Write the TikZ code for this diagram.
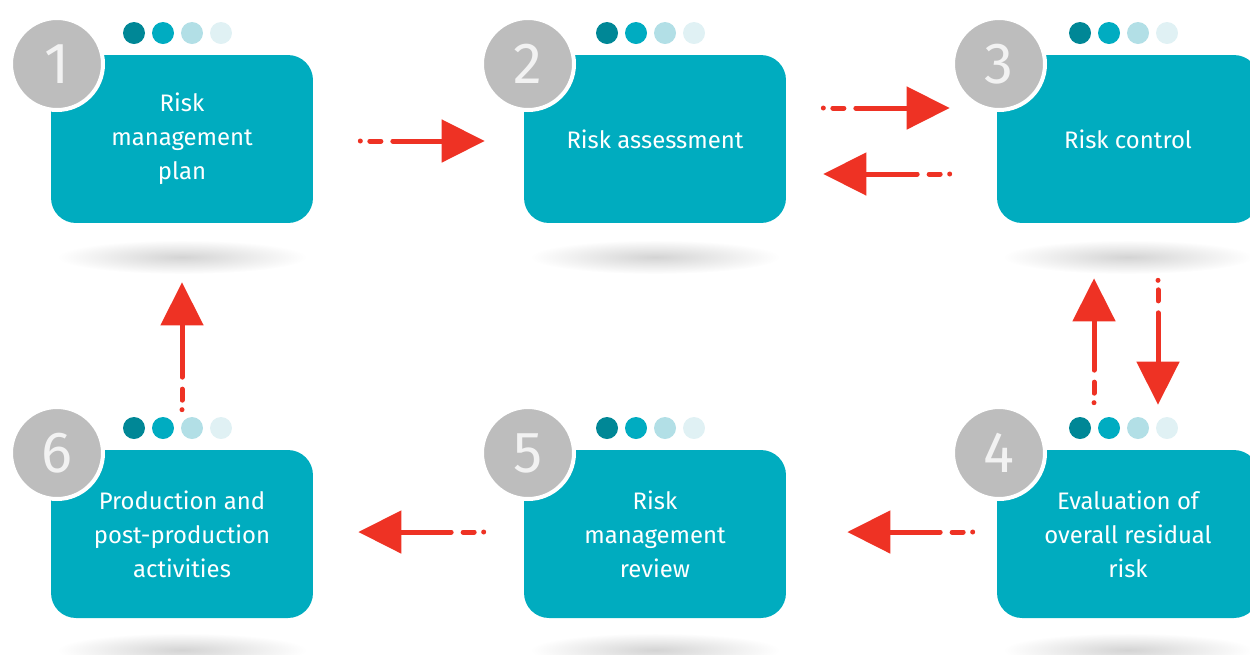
\documentclass[tikz,border=0pt]{standalone}
\usepackage{fontspec}
\setmainfont{Fira Sans}
\usetikzlibrary{arrows.meta}
\definecolor{boxc}{HTML}{00ACBF}
\definecolor{numc}{HTML}{BDBDBD}
\definecolor{dotA}{HTML}{008796}
\definecolor{dotB}{HTML}{00ACC1}
\definecolor{dotC}{HTML}{B2DFE6}
\definecolor{dotD}{HTML}{E0F1F4}
\definecolor{arrc}{HTML}{EE3224}
\tikzset{
  stepbox/.style={fill=boxc, rounded corners=0.5cm, minimum width=5.24cm, minimum height=3.36cm,
    text=white, align=center, inner sep=0pt, font=\fontsize{13.6}{19.3}\selectfont},
  numcirc/.style={circle, fill=numc, draw=white, line width=0.08cm, minimum size=1.84cm, inner sep=0pt,
    text=white!95!black, font=\fontsize{33}{33}\selectfont},
  dotn/.style={circle, minimum size=0.44cm, inner sep=0pt},
  arr/.style={draw=arrc, line width=0.1cm, line cap=round,
    dash pattern=on 0pt off 5.4pt on 6.3pt off 6.8pt on 800pt,
    -{Triangle[length=0.86cm,width=0.84cm,fill=arrc]}},
  shad/.style={inner color=black!17, outer color=white}
}
\begin{document}
\begin{tikzpicture}[x=0.02cm,y=-0.02cm]
\useasboundingbox (0,0) rectangle (1250,654);
\clip (0,0) rectangle (1250,654);
% shadows
\foreach \cx in {182,655,1128}{
  \shade[shad] (\cx,257) ellipse (125 and 17);
  \shade[shad] (\cx,650) ellipse (125 and 17);
}
% boxes
\node[stepbox] (b1) at (182,139) {Risk\\management\\plan};
\node[stepbox] (b2) at (655,139) {Risk assessment};
\node[stepbox] (b3) at (1128,139) {Risk control};
\node[stepbox] (b4) at (1128,534) {Evaluation of\\overall residual\\risk};
\node[stepbox] (b5) at (655,534) {\raisebox{3pt}{}Risk\\management\\review};
\node[stepbox] (b6) at (182,534) {Production and\\post-production\\activities};
% number circles
\node[numcirc] (n1) at (57,64) {1};
\node[numcirc] (n2) at (528,64) {2};
\node[numcirc] (n3) at (999,64) {3};
\node[numcirc] (n4) at (999,453) {4};
\node[numcirc] (n5) at (528,453) {5};
\node[numcirc] (n6) at (57,453) {6};
% dots
\foreach \nm/\dx/\dy in {1/134/33, 2/607/33, 3/1080/33, 4/1080/428, 5/607/428, 6/134/428}{
  \node[dotn, fill=dotA] (d\nm a) at (\dx,\dy) {};
  \node[dotn, fill=dotB] (d\nm b) at (\dx+29,\dy) {};
  \node[dotn, fill=dotC] (d\nm c) at (\dx+58,\dy) {};
  \node[dotn, fill=dotD] (d\nm d) at (\dx+87,\dy) {};
}
% arrows
\draw[arr] ([shift={(0.94cm,-0.04cm)}]b1.east) -- ([shift={(-0.78cm,-0.04cm)}]b2.west);
\draw[arr] ([shift={(0.74cm,0.62cm)}]b2.east) -- ([shift={(-0.94cm,0.62cm)}]b3.west);
\draw[arr] ([shift={(-0.94cm,-0.7cm)}]b3.west) -- ([shift={(0.74cm,-0.7cm)}]b2.east);
\draw[arr] ([shift={(-0.68cm,0.94cm)}]b4.north) -- ([shift={(-0.68cm,-1.1cm)}]b3.south);
\draw[arr] ([shift={(0.6cm,-1.14cm)}]b3.south) -- ([shift={(0.6cm,0.9cm)}]b4.north);
\draw[arr] ([shift={(-0.48cm,0.04cm)}]b4.west) -- ([shift={(1.22cm,0.04cm)}]b5.east);
\draw[arr] ([shift={(-0.8cm,0.04cm)}]b5.west) -- ([shift={(0.9cm,0.04cm)}]b6.east);
\draw[arr] ([shift={(0cm,0.8cm)}]b6.north) -- ([shift={(0cm,-1.18cm)}]b1.south);
\end{tikzpicture}
\end{document}
